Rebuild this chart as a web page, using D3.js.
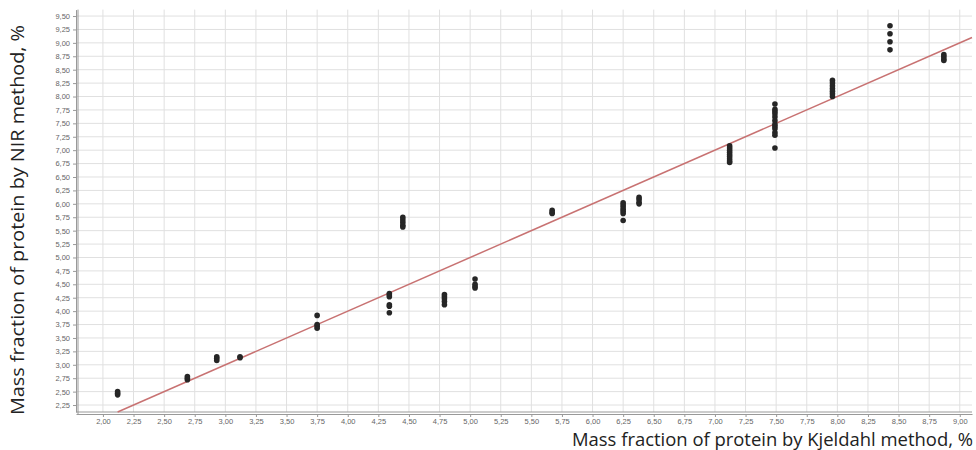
<!DOCTYPE html>
<html>
<head>
<meta charset="utf-8">
<script src="https://cdn.jsdelivr.net/npm/d3@7"></script>
<style>
  body { margin: 0; background: #fff; }
  svg { display: block; }
</style>
</head>
<body>
<div id="chart"></div>
<script>
// data: Kjeldahl value (x) and the NIR readings (y) for each sample
var kjeldahl = [2.12, 2.69, 2.93, 3.12, 3.75, 4.34, 4.45, 4.79, 5.04, 5.67, 6.25, 6.38, 7.12, 7.49, 7.96, 8.43, 8.87];
var nirValues = [
  [2.44, 2.47, 2.50],
  [2.72, 2.75, 2.78],
  [3.08, 3.12, 3.15],
  [3.13, 3.15],
  [3.92, 3.75, 3.72, 3.68],
  [4.33, 4.30, 4.27, 4.12, 4.09, 3.97],
  [5.75, 5.70, 5.65, 5.60, 5.57],
  [4.31, 4.27, 4.23, 4.18, 4.12],
  [4.60, 4.50, 4.46, 4.43],
  [5.88, 5.84, 5.82],
  [6.02, 5.98, 5.94, 5.90, 5.86, 5.82, 5.69],
  [6.12, 6.08, 6.03, 6.00],
  [7.08, 7.04, 7.00, 6.96, 6.92, 6.88, 6.84, 6.80, 6.77],
  [7.86, 7.76, 7.72, 7.68, 7.62, 7.55, 7.48, 7.44, 7.40, 7.33, 7.28, 7.04],
  [8.30, 8.25, 8.20, 8.15, 8.10, 8.05, 8.00],
  [9.32, 9.17, 9.02, 8.87],
  [8.78, 8.74, 8.70, 8.67]
];
var xTicks = d3.range(2, 9.001, 0.25);
var yTicks = d3.range(2.25, 9.501, 0.25);
var fitLine = [[2.12, 2.12], [9.1, 9.1]]; // regression line, about y = x

var points = [];
kjeldahl.forEach(function (k, i) {
  nirValues[i].forEach(function (v) { points.push({x: k, y: v}); });
});

var width = 976, height = 450;
var plotLeft = 76, plotRight = 972, plotTop = 9.6, plotBottom = 412;

var svg = d3.select('#chart').append('svg')
  .attr('width', width)
  .attr('height', height);

var x = d3.scaleLinear().domain([1.78, 9.1]).range([plotLeft, plotRight]);
var y = d3.scaleLinear().domain([2.12, 9.62]).range([plotBottom, plotTop]);
var fmt = function (d) { return d3.format('.2f')(d).replace('.', ','); };

// GRID
svg.append('g').selectAll('line').data(xTicks).enter().append('line')
  .attr('x1', function (d) { return x(d); }).attr('x2', function (d) { return x(d); })
  .attr('y1', plotTop).attr('y2', plotBottom)
  .attr('stroke', '#e0e0e0').attr('stroke-width', 1);
svg.append('g').selectAll('line').data(yTicks).enter().append('line')
  .attr('y1', function (d) { return y(d); }).attr('y2', function (d) { return y(d); })
  .attr('x1', plotLeft).attr('x2', plotRight)
  .attr('stroke', '#e0e0e0').attr('stroke-width', 1);

// AXES
var xAxis = svg.append('g').attr('transform', 'translate(0,' + (plotBottom + 2) + ')')
  .call(d3.axisBottom(x).tickValues(xTicks).tickFormat(fmt).tickSize(3).tickSizeOuter(0));
var yAxis = svg.append('g').attr('transform', 'translate(' + plotLeft + ',0)')
  .call(d3.axisLeft(y).tickValues(yTicks).tickFormat(fmt).tickSize(3).tickSizeOuter(0));
[xAxis, yAxis].forEach(function (g) {
  g.select('.domain').attr('stroke', '#999');
  g.selectAll('.tick line').attr('stroke', '#999');
  g.selectAll('.tick text').attr('fill', '#666')
    .style('font-family', 'Liberation Sans, Arial, sans-serif').style('font-size', '7.5px');
});
xAxis.selectAll('.tick text').attr('y', 4).attr('dy', '0.75em');
// double lines like the original
svg.append('line').attr('x1', plotLeft + 2).attr('x2', plotLeft + 2).attr('y1', plotTop).attr('y2', plotBottom + 2)
  .attr('stroke', '#999');
svg.append('line').attr('x1', plotLeft).attr('x2', plotRight).attr('y1', plotBottom).attr('y2', plotBottom)
  .attr('stroke', '#999');

// REGRESSION LINE
svg.append('path').datum(fitLine)
  .attr('d', d3.line().x(function (d) { return x(d[0]); }).y(function (d) { return y(d[1]); }))
  .attr('fill', 'none').attr('stroke', '#c87272').attr('stroke-width', 1.5);

// POINTS
svg.append('g').selectAll('circle').data(points).enter().append('circle')
  .attr('cx', function (d) { return x(d.x); })
  .attr('cy', function (d) { return y(d.y); })
  .attr('r', 2.8)
  .attr('fill', '#262626');

// LABELS
svg.append('text')
  .attr('x', 973).attr('y', 446)
  .attr('text-anchor', 'end')
  .attr('textLength', 401).attr('lengthAdjust', 'spacingAndGlyphs')
  .style('font-family', 'Open Sans, Liberation Sans, sans-serif').style('font-size', '18px')
  .attr('fill', '#222')
  .text('Mass fraction of protein by Kjeldahl method, %');
svg.append('text')
  .attr('transform', 'translate(24,220) rotate(-90)')
  .attr('text-anchor', 'middle')
  .attr('textLength', 390).attr('lengthAdjust', 'spacingAndGlyphs')
  .style('font-family', 'Open Sans, Liberation Sans, sans-serif').style('font-size', '18px')
  .attr('fill', '#222')
  .text('Mass fraction of protein by NIR method, %');
</script>
</body>
</html>
